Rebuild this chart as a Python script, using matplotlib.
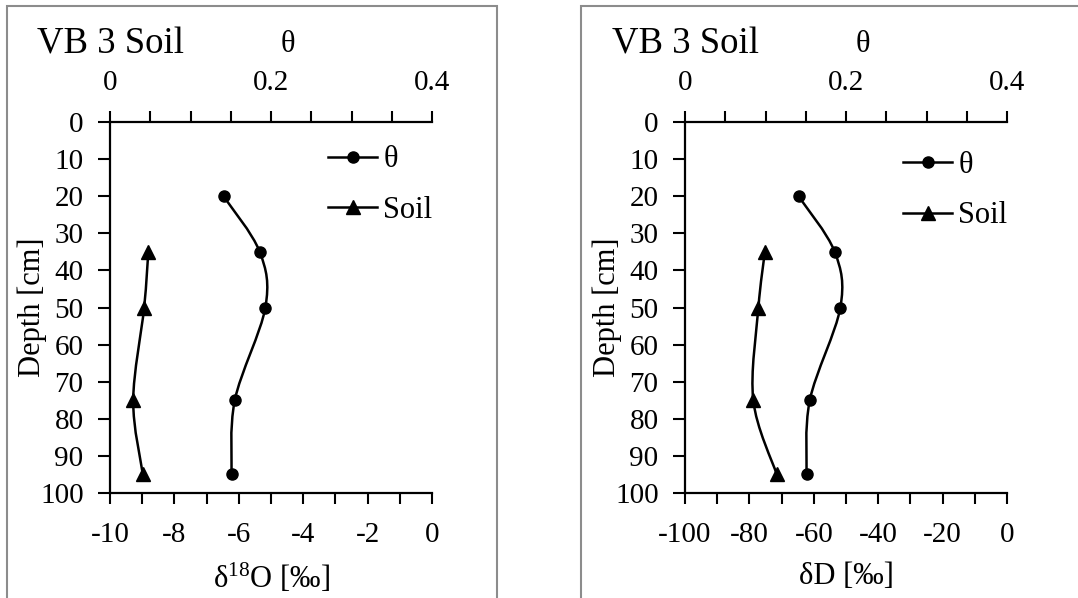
import matplotlib
matplotlib.use("Agg")
import matplotlib.pyplot as plt
from matplotlib.lines import Line2D
from matplotlib.path import Path
from matplotlib.patches import PathPatch, Rectangle
from matplotlib.ticker import MultipleLocator

plt.rcParams["font.family"] = ["Liberation Serif", "DejaVu Serif"]
plt.rcParams["mathtext.fontset"] = "custom"
plt.rcParams["mathtext.rm"] = "Liberation Serif"
plt.rcParams["mathtext.it"] = "Liberation Serif:italic"
plt.rcParams["mathtext.bf"] = "Liberation Serif:bold"

# depth [cm]
theta_depth = [20, 35, 50, 75, 95]
theta = [0.141, 0.186, 0.193, 0.155, 0.151]

soil_depth = [35, 50, 75, 95]
soil_d18o = [-8.81, -8.94, -9.28, -8.98]
soil_dd = [-75.2, -77.2, -78.8, -71.5]

title = "VB 3 Soil"
theta_ticks = [0, 0.2, 0.4]
depth_ticks = list(range(0, 101, 10))


def smooth_path(xs, ys):
    """Excel-like smoothed line: Catmull-Rom as cubic Bezier segments."""
    pts = list(zip(xs, ys))
    verts = [pts[0]]
    codes = [Path.MOVETO]
    n = len(pts)
    for i in range(n - 1):
        p0 = pts[i - 1] if i > 0 else pts[i]
        p1, p2 = pts[i], pts[i + 1]
        p3 = pts[i + 2] if i + 2 < n else pts[i + 1]
        c1 = (p1[0] + (p2[0] - p0[0]) / 6, p1[1] + (p2[1] - p0[1]) / 6)
        c2 = (p2[0] - (p3[0] - p1[0]) / 6, p2[1] - (p3[1] - p1[1]) / 6)
        verts += [c1, c2, p2]
        codes += [Path.CURVE4] * 3
    return Path(verts, codes)


def fmt(v, pos):
    return f"{v:g}"


def draw_panel(fig, rect, soil_x, xlim, xmajor, xminor, xlabel, legend_pos):
    ax = fig.add_axes(rect)
    ax.set_xlim(*xlim)
    ax.set_ylim(100, 0)
    ax.set_yticks(depth_ticks)
    ax.xaxis.set_major_locator(MultipleLocator(xmajor))
    ax.xaxis.set_minor_locator(MultipleLocator(xminor))
    ax.xaxis.set_major_formatter(plt.FuncFormatter(fmt))
    ax.tick_params(axis="x", which="both", direction="out", length=8, width=1.5,
                   labelsize=21, pad=13)
    ax.tick_params(axis="y", direction="out", length=9, width=1.5, labelsize=21, pad=10)
    for s in ("top", "right"):
        ax.spines[s].set_visible(False)
    for s in ("left", "bottom"):
        ax.spines[s].set_linewidth(1.6)
    ax.set_ylabel("Depth [cm]", fontsize=22)
    ax.yaxis.set_label_coords(-0.196, 0.5)
    ax.set_xlabel(xlabel, fontsize=22, labelpad=10)

    ax2 = ax.twiny()
    ax2.set_xlim(0, 0.4)
    ax2.set_xticks(theta_ticks)
    ax2.xaxis.set_minor_locator(MultipleLocator(0.05))
    ax2.xaxis.set_major_formatter(plt.FuncFormatter(fmt))
    ax2.tick_params(axis="x", which="both", direction="out", length=8, width=1.5,
                    labelsize=21, pad=11)
    for s in ("bottom", "left", "right"):
        ax2.spines[s].set_visible(False)
    ax2.spines["top"].set_linewidth(1.6)

    # soil series on bottom axis
    ax.add_patch(PathPatch(smooth_path(soil_x, soil_depth), fill=False,
                           edgecolor="black", linewidth=1.8, zorder=3))
    ax.plot(soil_x, soil_depth, linestyle="none", marker="^", markersize=10,
            color="black", zorder=4)
    # theta series on top axis
    ax2.add_patch(PathPatch(smooth_path(theta, theta_depth), fill=False,
                            edgecolor="black", linewidth=1.8, zorder=3))
    ax2.plot(theta, theta_depth, linestyle="none", marker="o", markersize=8,
             color="black", zorder=4)

    handles = [
        Line2D([], [], color="black", linewidth=1.8, marker="o", markersize=8),
        Line2D([], [], color="black", linewidth=1.8, marker="^", markersize=10),
    ]
    ax2.legend(handles, ["θ", "Soil"], loc="upper left", bbox_to_anchor=legend_pos,
               frameon=False, fontsize=22, handlelength=1.6, handletextpad=0.2,
               labelspacing=0.7, borderaxespad=0)

    fig.text(rect[0] - 73 / 1078, 1 - 53 / 598, title, fontsize=26.5, ha="left",
             va="baseline")
    fig.text(rect[0] + 178 / 1078, 1 - 44 / 598, "θ", fontsize=22, ha="center",
             va="center")
    return ax, ax2


fig = plt.figure(figsize=(10.78, 5.98), dpi=100)
fig.patch.set_facecolor("white")

# frames around each chart
fig.patches.append(Rectangle((7 / 1078, -0.05), 490 / 1078, 1.05 - 6 / 598,
                             transform=fig.transFigure, fill=False,
                             edgecolor="#8c8c8c", linewidth=1.5))
fig.patches.append(Rectangle((581 / 1078, -0.05), 0.6, 1.05 - 6 / 598,
                             transform=fig.transFigure, fill=False,
                             edgecolor="#8c8c8c", linewidth=1.5))

h = (493 - 122) / 598
y0 = 1 - 493 / 598
draw_panel(fig, [110 / 1078, y0, 322 / 1078, h], soil_d18o, (-10, 0), 2, 1,
           "δ$^{18}$O [‰]", (0.64, 0.97))
draw_panel(fig, [685 / 1078, y0, 322 / 1078, h], soil_dd, (-100, 0), 20, 10,
           "δD [‰]", (0.64, 0.955))

fig.savefig("out.png", dpi=100, facecolor=fig.get_facecolor())
plt.close(fig)
